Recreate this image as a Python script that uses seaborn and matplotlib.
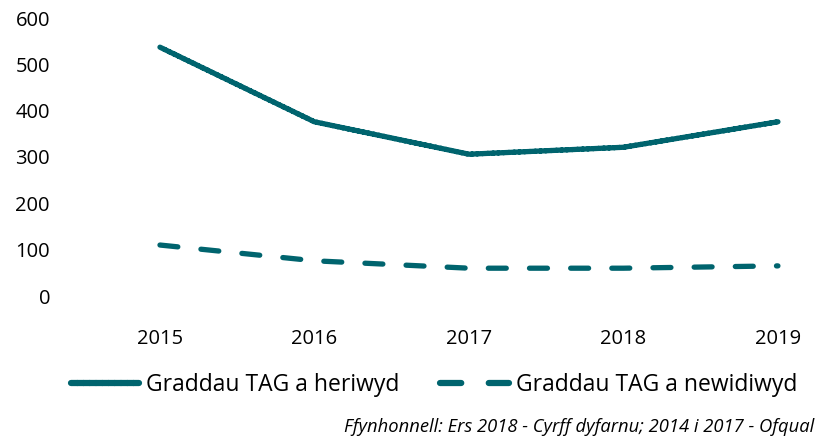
import matplotlib
matplotlib.use("Agg")
import matplotlib.pyplot as plt
import seaborn as sns
import pandas as pd

sns.set_theme(style="white")
plt.rcParams["font.family"] = ["Open Sans", "DejaVu Sans"]

# === Data ===
years = ["2015", "2016", "2017", "2018", "2019"]
challenged = [537, 376, 306, 321, 376]
changed = [110, 76, 60, 60, 65]
label_challenged = "Graddau TAG a heriwyd"
label_changed = "Graddau TAG a newidiwyd"
source = "Ffynhonnell: Ers 2018 - Cyrff dyfarnu; 2014 i 2017 - Ofqual"

df = pd.DataFrame({
    "Blwyddyn": years * 2,
    "Gwerth": challenged + changed,
    "Cyfres": [label_challenged] * len(years) + [label_changed] * len(years),
})

teal = "#00646e"

fig = plt.figure(figsize=(8.23, 4.37), dpi=100)
ax = fig.add_axes([75 / 823, (437 - 296) / 437, 740 / 823, (296 - 18) / 437])

sns.lineplot(data=df, x="Blwyddyn", y="Gwerth", hue="Cyfres", style="Cyfres",
             palette=[teal, teal], dashes=[(1, 0), (3.4, 4.4)], linewidth=3.8,
             sort=False, ax=ax)
for line in ax.lines:
    line.set_clip_on(False)
    line.set_dash_capstyle("round")
    line.set_solid_capstyle("round")

ax.set_ylim(0, 600)
ax.set_yticks(range(0, 601, 100))
ax.set_xlim(-0.55, 4.24)
ax.set_xlabel("")
ax.set_ylabel("")
sns.despine(ax=ax, left=True, bottom=True)
ax.tick_params(axis="y", labelsize=14.5, colors="#000000", pad=18, length=0)
ax.tick_params(axis="x", labelsize=14.5, colors="#000000", pad=24, length=0)

handles, labels = ax.get_legend_handles_labels()
for h in handles:
    h.set_dash_capstyle("round")
    h.set_solid_capstyle("round")
    h.set_linewidth(4.5)
leg = ax.legend(handles, labels, loc="center", bbox_to_anchor=(0.527, (437 - 385) / 437),
                bbox_transform=fig.transFigure, ncol=2, frameon=False,
                fontsize=16.5, handlelength=3.0, columnspacing=1.8, handletextpad=0.28,
                labelcolor="#000000")

fig.text(814 / 823, (437 - 427) / 437, source, ha="right", va="center",
         fontsize=13.2, style="italic", color="#000000")

plt.savefig("out.png", dpi=100)
